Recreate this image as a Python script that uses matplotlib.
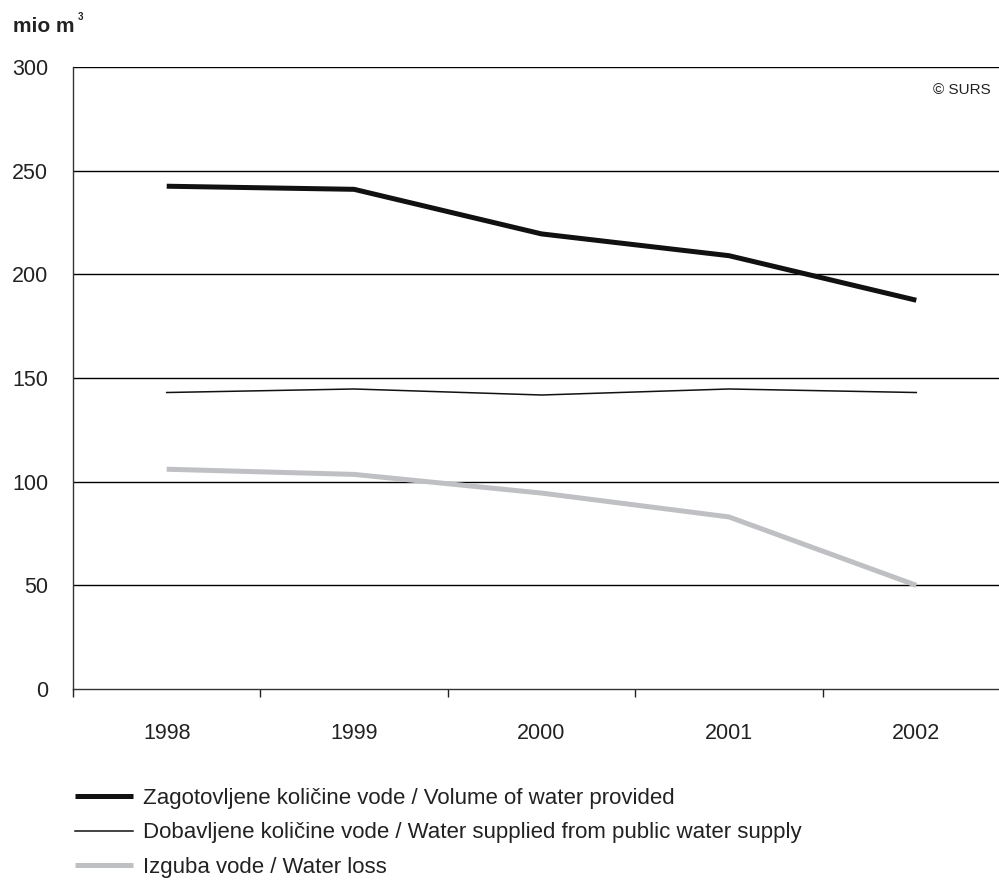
import matplotlib
matplotlib.use("Agg")
import matplotlib.pyplot as plt
from matplotlib.lines import Line2D

plt.rcParams['font.family'] = ['Liberation Sans', 'DejaVu Sans']

years = ["1998", "1999", "2000", "2001", "2002"]
provided = [242.5, 241.0, 219.5, 209.0, 187.5]
supplied = [143.0, 144.7, 141.8, 144.7, 143.0]
loss = [106.0, 103.5, 94.5, 83.0, 50.0]

labels = [
    "Zagotovljene količine vode / Volume of water provided",
    "Dobavljene količine vode / Water supplied from public water supply",
    "Izguba vode / Water loss",
]
yticks = [0, 50, 100, 150, 200, 250, 300]

W, H = 999, 880
fig = plt.figure(figsize=(W / 100, H / 100), dpi=100)
left, right, bottom, top = 73, 1010, 880 - 689, 880 - 67
ax = fig.add_axes([left / W, bottom / H, (right - left) / W, (top - bottom) / H])

x = list(range(len(years)))
ax.set_xlim(-0.5, len(years) - 0.5)
ax.set_ylim(0, 300)

for yv in yticks[1:]:
    ax.axhline(yv, color="black", lw=1.0, zorder=1)

ax.plot(x, provided, color="#111111", lw=3.6, solid_capstyle="butt", zorder=3)
ax.plot(x, supplied, color="#111111", lw=1.1, zorder=3)
ax.plot(x, loss, color="#bfc0c4", lw=3.6, solid_capstyle="butt", zorder=2)

for s in ["top", "right"]:
    ax.spines[s].set_visible(False)
ax.spines["left"].set_color("#333333")
ax.spines["bottom"].set_color("#333333")
ax.spines["left"].set_linewidth(1.0)
ax.spines["bottom"].set_linewidth(1.0)

ax.set_yticks(yticks)
ax.set_yticklabels([str(v) for v in yticks], fontsize=15.5, color="#222222")
ax.tick_params(axis="y", length=0, pad=18)

ax.set_xticks([i - 0.5 for i in range(len(years) + 1)])
ax.set_xticklabels([])
ax.tick_params(axis="x", length=6, width=1, color="#222222", direction="out")
for i, yr in enumerate(years):
    ax.text(i, -21.5, yr, ha="center", va="center", fontsize=15.5, color="#222222")

fig.text(13 / W, 1 - 32 / H, "mio m", fontsize=15, fontweight="bold", color="#222222", va="baseline")
fig.text(78 / W, 1 - 20 / H, "3", fontsize=7, fontweight="bold", color="#222222", va="baseline")
fig.text(991 / W, 1 - 90 / H, "© SURS", fontsize=11, color="#222222", ha="right", va="center")

handles = [
    Line2D([], [], color="#111111", lw=3.6, solid_capstyle="butt"),
    Line2D([], [], color="#111111", lw=1.1),
    Line2D([], [], color="#bfc0c4", lw=3.6, solid_capstyle="butt"),
]
leg = fig.legend(handles, labels, loc="upper left", bbox_to_anchor=(75 / W, 1 - 788 / H),
                 frameon=False, fontsize=16, handlelength=2.6, handletextpad=0.45,
                 labelspacing=0.6, borderaxespad=0, borderpad=0)
for t in leg.get_texts():
    t.set_color("#222222")

fig.savefig("out.png", dpi=100)
